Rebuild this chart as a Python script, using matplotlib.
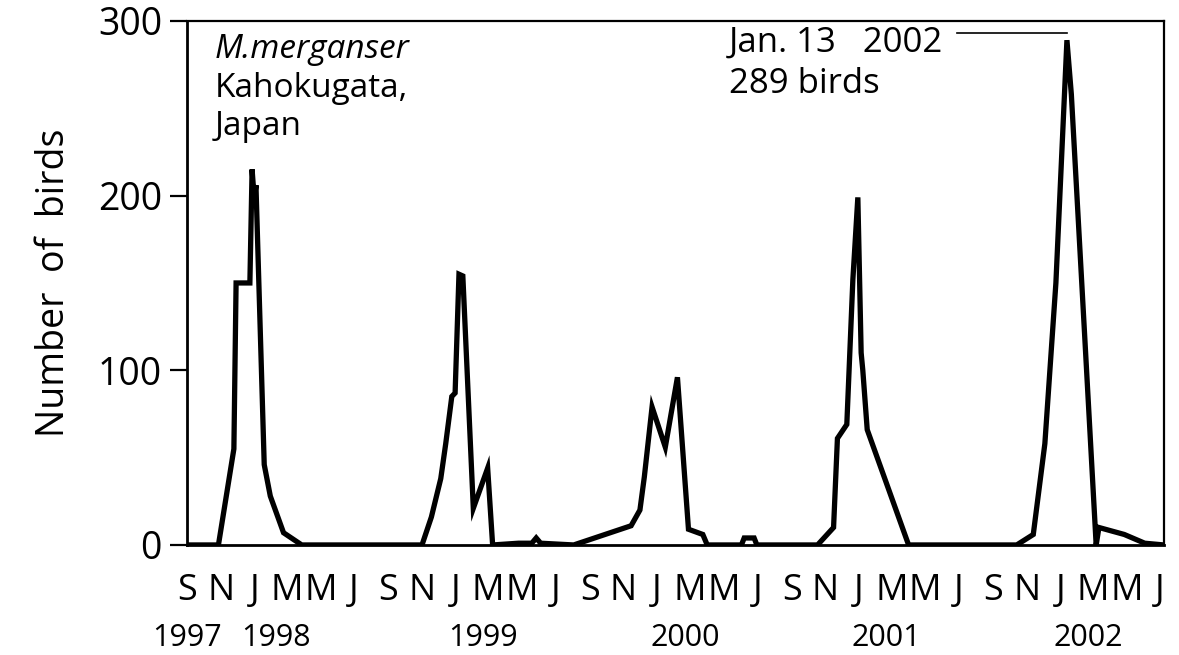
import matplotlib
matplotlib.use("Agg")
import matplotlib.pyplot as plt
import pandas as pd

# survey dates and counts
dates = [
    "1997-09-01", "1997-10-28", "1997-11-25", "1997-11-29", "1997-12-24",
    "1997-12-28", "1998-01-01", "1998-01-04", "1998-01-19", "1998-01-30",
    "1998-02-23", "1998-03-28", "1998-11-01", "1998-11-18", "1998-12-05",
    "1998-12-14", "1998-12-25", "1998-12-31", "1999-01-07", "1999-01-14",
    "1999-02-02", "1999-02-28", "1999-03-09", "1999-04-25", "1999-05-19",
    "1999-05-27", "1999-06-04", "1999-08-03", "1999-11-15", "1999-12-01",
    "1999-12-09", "1999-12-23", "2000-01-16", "2000-02-07", "2000-02-27",
    "2000-03-24", "2000-04-01", "2000-06-02", "2000-06-07", "2000-06-25",
    "2000-06-30", "2000-10-18", "2000-11-16", "2000-11-23", "2000-12-10",
    "2000-12-21", "2000-12-30", "2001-01-05", "2001-01-08", "2001-01-16",
    "2001-04-01", "2001-10-14", "2001-11-13", "2001-12-04", "2001-12-24",
    "2002-01-13", "2002-01-21", "2002-02-15", "2002-03-07", "2002-03-12",
    "2002-04-27", "2002-06-03", "2002-07-08",
]
counts = [
    0, 0, 55, 150, 150,
    215, 198, 206, 46, 28,
    7, 0, 0, 16, 38,
    58, 85, 87, 155, 154,
    21, 44, 0, 1, 1,
    4, 1, 0, 11, 20,
    39, 79, 56, 96, 9,
    6, 0, 0, 4, 4,
    0, 0, 10, 61, 69,
    152, 199, 110, 100, 66,
    0, 0, 6, 58, 150,
    289, 258, 115, 0, 10,
    6, 1, 0,
]

month_labels = ["S", "N", "J", "M", "M", "J",
                "S", "N", "J", "M", "M", "J",
                "S", "N", "J", "M", "M", "J",
                "S", "N", "J", "M", "M", "J",
                "S", "N", "J", "M", "M", "J"]
year_labels = ["1997", "1998", "1999", "2000", "2001", "2002"]
year_label_dates = ["1997-09-01", "1998-02-10", "1999-02-20",
                    "2000-02-22", "2001-02-20", "2002-02-20"]

peak_date = "2002-01-13"
peak_count = 289

plt.rcParams["font.family"] = ["Open Sans", "DejaVu Sans"]

x = pd.to_datetime(dates)
fig = plt.figure(figsize=(11.79, 6.55), dpi=100)
ax = fig.add_axes([0.1586, 0.168, 0.8287, 0.800])

ax.plot(x, counts, color="black", linewidth=3.8, solid_joinstyle="miter")

ax.set_xlim(pd.Timestamp("1997-09-01"), pd.Timestamp("2002-07-08"))
ax.set_ylim(0, 300)

# month letters on major ticks, years on minor ticks further down
ax.xaxis.remove_overlapping_locs = False
month_ticks = pd.date_range("1997-09-01", "2002-07-01", freq="2MS")
ax.set_xticks(month_ticks)
ax.set_xticklabels(month_labels, fontsize=26)
ax.set_xticks(pd.to_datetime(year_label_dates), minor=True)
ax.set_xticklabels(year_labels, minor=True, fontsize=22)
ax.tick_params(axis="x", which="major", length=0, pad=20)
ax.tick_params(axis="x", which="minor", length=0, pad=56)

ax.set_yticks([0, 100, 200, 300])
ax.tick_params(axis="y", labelsize=27, length=12, width=1.6, pad=6)

for side in ["left", "bottom"]:
    ax.spines[side].set_linewidth(2.0)
for side in ["top", "right"]:
    ax.spines[side].set_linewidth(1.6)

ax.set_ylabel("Number  of  birds", fontsize=27, labelpad=18)

ax.text(0.028, 0.977, "M.merganser", transform=ax.transAxes, fontsize=24,
        style="italic", va="top")
ax.text(0.028, 0.903, "Kahokugata,\nJapan", transform=ax.transAxes, fontsize=24,
        va="top", linespacing=1.2)

ax.text(pd.Timestamp("2000-05-10"), 297.5, "Jan. 13   2002\n289 birds",
        fontsize=25, va="top", ha="left", linespacing=1.28)
ax.plot([pd.Timestamp("2001-06-27"), pd.Timestamp(peak_date)],
        [peak_count + 4, peak_count + 4], color="black", linewidth=1.2)

fig.savefig("out.png", dpi=100)
